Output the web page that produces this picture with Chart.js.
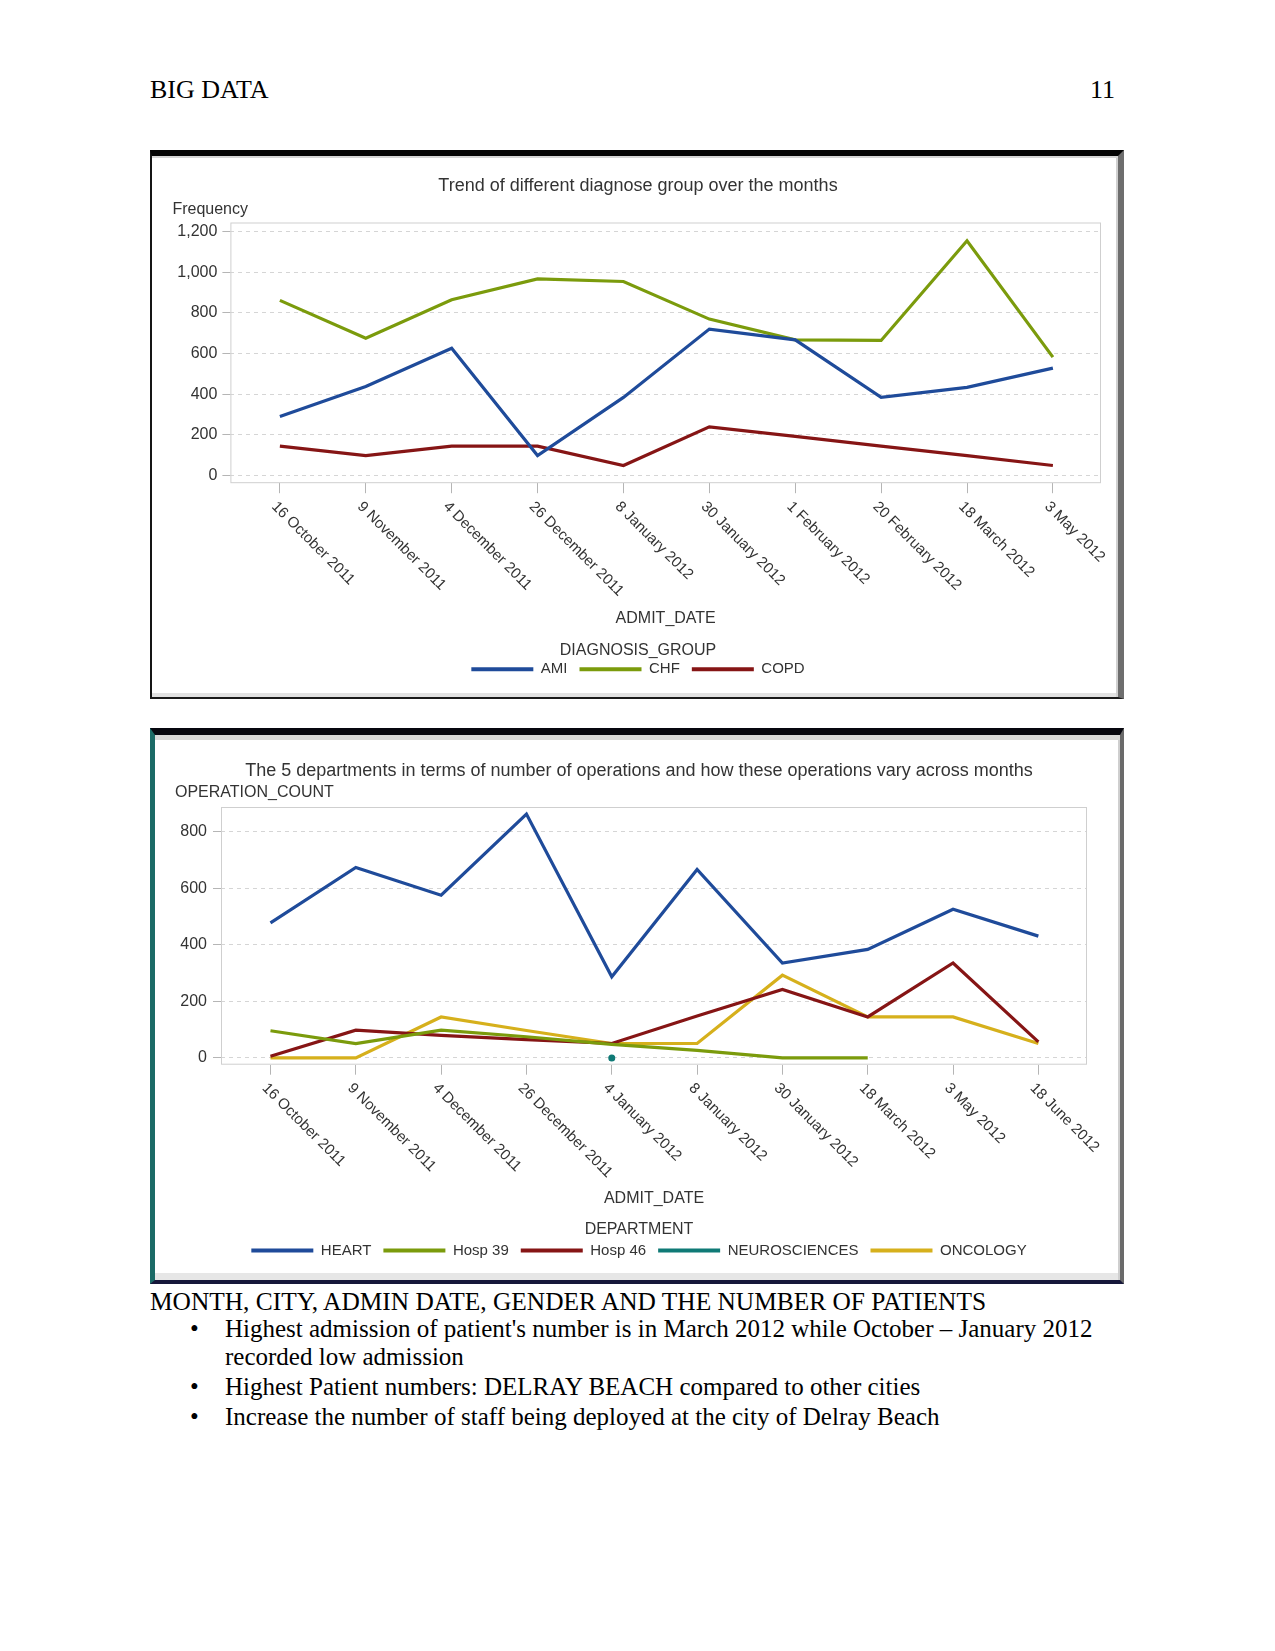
<!DOCTYPE html>
<html>
<head>
<meta charset="utf-8">
<script src="https://cdn.jsdelivr.net/npm/chart.js@4.4.1/dist/chart.umd.min.js"></script>
<style>
  html, body { margin: 0; padding: 0; background: #fff; }
  body { width: 1275px; height: 1651px; position: relative; overflow: hidden; font-family: "Liberation Serif", "Times New Roman", serif; color: #000; }
  .doc { position: absolute; font-size: 25px; line-height: 28.75px; white-space: nowrap; }
  .frame { position: absolute; box-sizing: border-box; background: #fff; }
  #f1 { left: 150px; top: 150px; width: 974px; height: 549px; border-top: 6px solid #050505; border-left: 2px solid #151515; border-right: 6px solid #6e6e6e; border-bottom: 2px solid #1a1a1a; box-shadow: inset 0 2px 0 #d6d6d6, inset -2px 0 0 #d0d0d0, inset 0 -4px 0 #e2e2e2; }
  #f2 { left: 150px; top: 728px; width: 974px; height: 556px; border-top: 7px solid #07070f; border-left: 5px solid #1b6a66; border-right: 4px solid #6a6a6a; border-bottom: 4px solid #16173a; box-shadow: inset 0 5px 0 #d8d8d8, inset -2px 0 0 #cfcfcf, inset 0 -7px 0 #e6e6e6; }
  canvas { position: absolute; }
  #c1 { left: 153px; top: 157px; }
  #c2 { left: 155px; top: 741px; }
</style>
</head>
<body>
<div class="doc" style="left:150px; top:76px; font-size:26px;">BIG DATA</div>
<div class="doc" style="right:160px; top:76px; font-size:26px;">11</div>

<div class="frame" id="f1"></div>
<div class="frame" id="f2"></div>
<canvas id="c1" width="963" height="538"></canvas>
<canvas id="c2" width="960" height="531"></canvas>

<div class="doc" style="left:150px; top:1287px; font-size:25.4px;">MONTH, CITY, ADMIN DATE, GENDER AND THE NUMBER OF PATIENTS</div>
<div class="doc" style="left:190px; top:1315px;">•</div>
<div class="doc" style="left:225px; top:1315px;">Highest admission of patient's number is in March 2012 while October – January 2012</div>
<div class="doc" style="left:225px; top:1343px;">recorded low admission</div>
<div class="doc" style="left:190px; top:1373px;">•</div>
<div class="doc" style="left:225px; top:1373px;">Highest Patient numbers: DELRAY BEACH compared to other cities</div>
<div class="doc" style="left:190px; top:1403px;">•</div>
<div class="doc" style="left:225px; top:1403px;">Increase the number of staff being deployed at the city of Delray Beach</div>

<script>
// ---------- Chart 1 data ----------
const dates1 = ["16 October 2011", "9 November 2011", "4 December 2011", "26 December 2011", "8 January 2012",
                "30 January 2012", "1 February 2012", "20 February 2012", "18 March 2012", "3 May 2012"];
const ami  = [290, 438, 626, 98, 384, 720, 667, 384, 433, 528];
const chf  = [861, 675, 864, 967, 954, 769, 667, 664, 1154, 582];
const copd = [144, 98, 144, 144, 49, 239, 192, 144, 98, 49];
const yTicks1 = [0, 200, 400, 600, 800, 1000, 1200];

// ---------- Chart 2 data ----------
const dates2 = ["16 October 2011", "9 November 2011", "4 December 2011", "26 December 2011", "4 January 2012",
                "8 January 2012", "30 January 2012", "18 March 2012", "3 May 2012", "18 June 2012"];
const heart    = [478, 674, 576, 863, 287, 667, 336, 384, 526, 431];
const hosp39   = [96, 51, 98, 75, 48, 27, 0, 0, null, null];
const hosp46   = [6, 98, 80, 65, 51, 148, 242, 145, 336, 57];
const neuro    = [null, null, null, null, 0, null, null, null, null, null];
const oncology = [0, 0, 145, 97, 51, 51, 293, 145, 145, 51];
const yTicks2 = [0, 200, 400, 600, 800];

// ---------- styling ----------
const C_BLUE = '#1f4b9a', C_GREEN = '#7b9b0c', C_RED = '#861515', C_TEAL = '#0f7a76', C_GOLD = '#d6b01c';
const FONT = '"Liberation Sans", Arial, sans-serif';
const TXT = '#333333';

const toXY = arr => arr.map((v, i) => ({x: i, y: v}));

const extras = {
  id: 'extras',
  afterLayout(chart) {
    // let the y tick labels extend left of the (narrow) scale box without clipping
    chart.scales.y.left = 0;
  },
  beforeDatasetsDraw(chart, args, opts) {
    const {ctx, chartArea: a} = chart;
    ctx.save();
    ctx.strokeStyle = '#cfcfcf';
    ctx.lineWidth = 1;
    ctx.strokeRect(a.left + 0.5, a.top + 0.5, a.width - 1, a.height - 1);
    ctx.restore();
  },
  afterDraw(chart, args, opts) {
    const {ctx, chartArea: a} = chart;
    const xs = chart.scales.x;
    ctx.save();
    ctx.fillStyle = TXT;
    ctx.textAlign = 'left';
    ctx.textBaseline = 'middle';
    ctx.font = '15px ' + FONT;
    xs.ticks.forEach((t, i) => {
      const px = xs.getPixelForValue(t.value);
      ctx.save();
      ctx.translate(px + opts.dx, a.bottom + opts.dy);
      ctx.rotate(Math.PI / 4);
      ctx.fillText(opts.labels[i], 0, 0);
      ctx.restore();
    });
    ctx.font = '16px ' + FONT;
    ctx.fillText(opts.yTitle, a.left + opts.yDx, a.top + opts.yDy);
    ctx.restore();
  }
};

function legendLabels(chart) {
  const items = Chart.defaults.plugins.legend.labels.generateLabels(chart);
  items.forEach(it => { it.lineWidth = 0; });
  return items;
}

function makeChart(id, cfg) {
  return new Chart(document.getElementById(id), {
    type: 'line',
    data: {
      datasets: cfg.series.map(s => ({
        label: s.label,
        data: toXY(s.data),
        borderColor: s.color,
        backgroundColor: s.color,
        borderWidth: 3.2,
        pointRadius: s.point ? 3.5 : 0,
        pointBorderWidth: 0,
        tension: 0,
        spanGaps: false
      }))
    },
    options: {
      responsive: false,
      animation: false,
      devicePixelRatio: 1,
      layout: { padding: cfg.padding },
      scales: {
        x: {
          type: 'linear',
          min: cfg.xMin, max: cfg.xMax,
          afterBuildTicks: s => { s.ticks = cfg.labels.map((_, i) => ({value: i})); },
          afterFit: s => { s.height = cfg.xHeight; },
          ticks: { display: false },
          grid: { drawOnChartArea: false, drawTicks: true, tickLength: 10, tickColor: '#b5b5b5' },
          border: { display: false },
          title: { display: true, text: 'ADMIT_DATE', color: TXT, font: { family: FONT, size: 16 }, padding: { top: 0, bottom: 0 } }
        },
        y: {
          min: cfg.yMin, max: cfg.yMax,
          afterBuildTicks: s => { s.ticks = cfg.yTicks.map(v => ({value: v})); },
          afterFit: s => { s.width = cfg.yWidth; },
          ticks: { color: TXT, font: { family: FONT, size: 16 }, padding: cfg.yPad },
          grid: { color: '#d5d5d5', tickColor: '#b5b5b5', tickLength: 8, tickBorderDash: [] },
          border: { display: false, dash: [4, 4] }
        }
      },
      plugins: {
        title: { display: true, text: cfg.title, color: TXT, font: { family: FONT, size: 18, weight: 'normal' }, padding: cfg.titlePad },
        legend: {
          position: 'bottom',
          title: { display: true, text: cfg.legendTitle, color: TXT, font: { family: FONT, size: 16 }, padding: cfg.legendTitlePad },
          labels: { boxWidth: 62, boxHeight: 4, padding: 12, color: TXT, font: { family: FONT, size: 15 }, generateLabels: legendLabels }
        },
        tooltip: { enabled: false },
        extras: { labels: cfg.labels, dx: -6, dy: 21, yTitle: cfg.yTitle, yDx: cfg.yDx, yDy: cfg.yDy }
      }
    },
    plugins: [extras]
  });
}

makeChart('c1', {
  labels: dates1,
  series: [
    { label: 'AMI', data: ami, color: C_BLUE },
    { label: 'CHF', data: chf, color: C_GREEN },
    { label: 'COPD', data: copd, color: C_RED }
  ],
  title: 'Trend of different diagnose group over the months',
  legendTitle: 'DIAGNOSIS_GROUP',
  yTitle: 'Frequency', yDx: -58, yDy: -12.5,
  yTicks: yTicks1, yMin: -38, yMax: 1244,
  xMin: -0.576, xMax: 9.56,
  padding: { left: 22, right: 15, top: 0, bottom: 8.3 },
  titlePad: { top: 17.8, bottom: 26.1 },
  legendTitlePad: { top: 14.5, bottom: -12.3 },
  xHeight: 145.1, yWidth: 55.4, yPad: 5
});

makeChart('c2', {
  labels: dates2,
  series: [
    { label: 'HEART', data: heart, color: C_BLUE },
    { label: 'Hosp 39', data: hosp39, color: C_GREEN },
    { label: 'Hosp 46', data: hosp46, color: C_RED },
    { label: 'NEUROSCIENCES', data: neuro, color: C_TEAL, point: true },
    { label: 'ONCOLOGY', data: oncology, color: C_GOLD }
  ],
  title: 'The 5 departments in terms of number of operations and how these operations vary across months',
  legendTitle: 'DEPARTMENT',
  yTitle: 'OPERATION_COUNT', yDx: -46, yDy: -14,
  yTicks: yTicks2, yMin: -24, yMax: 888,
  xMin: -0.58, xMax: 9.57,
  padding: { left: 36, right: 28, top: 0, bottom: 4.1 },
  titlePad: { top: 18.8, bottom: 25.6 },
  legendTitlePad: { top: 13.5, bottom: -10.1 },
  xHeight: 143.6, yWidth: 30, yPad: 6
});
</script>
</body>
</html>
